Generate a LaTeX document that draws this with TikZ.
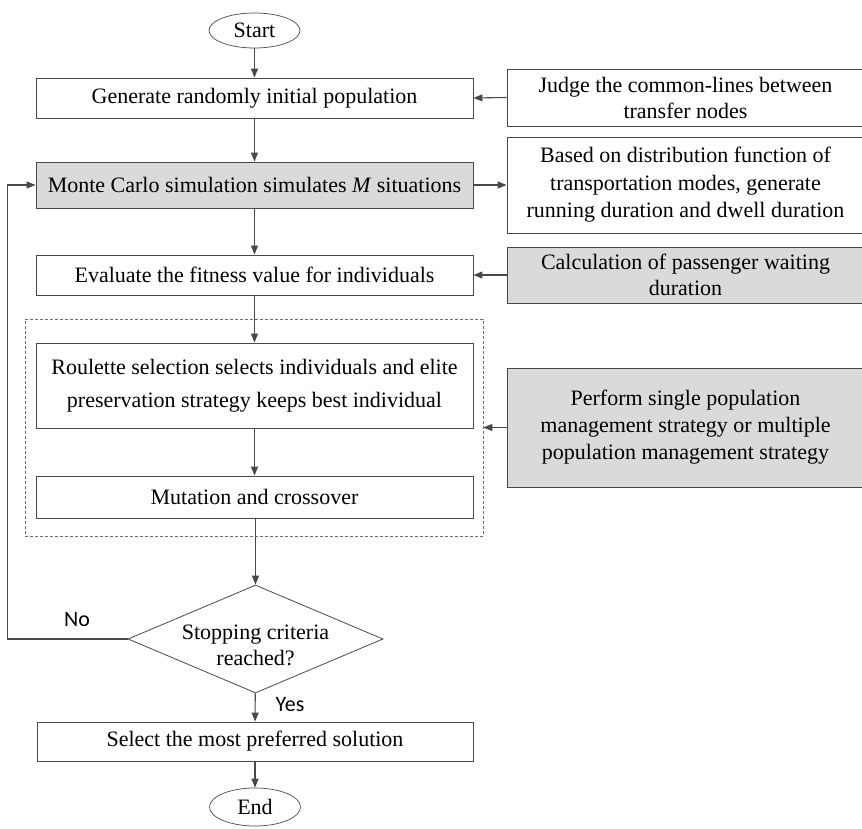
\documentclass[tikz,border=0pt]{standalone}
\usepackage{fontspec}
\setmainfont{Liberation Serif}
\newfontfamily\labelfont{Carlito}
\usetikzlibrary{shapes.geometric,arrows.meta}

\definecolor{linegray}{RGB}{72,72,72}
\definecolor{boxfill}{RGB}{218,218,218}
\definecolor{dashgray}{RGB}{110,110,110}

\begin{document}
\begin{tikzpicture}[x=1pt,y=-1pt,
  every node/.style={font=\fontsize{22}{26}\selectfont, text=black},
  proc/.style={draw=linegray, line width=0.9pt, rectangle, minimum width=437pt,
    inner sep=0pt, align=center},
  side/.style={draw=linegray, line width=0.9pt, rectangle, minimum width=357pt,
    inner sep=0pt, align=center},
  shaded/.style={fill=boxfill},
  term/.style={draw=linegray, line width=0.7pt, ellipse, minimum width=91pt,
    minimum height=35pt, inner sep=0pt},
  decision/.style={draw=linegray, line width=0.8pt, diamond, minimum width=255pt,
    minimum height=108pt, inner sep=0pt},
  group/.style={draw=dashgray, line width=0.7pt, dash pattern=on 3pt off 2pt},
  arr/.style={draw=linegray, line width=1.1pt, -{Triangle[length=9pt,width=7pt]}},
  answer/.style={font=\labelfont\fontsize{22}{26}\selectfont},
]
\useasboundingbox (0,0) rectangle (862,829);
\clip (0,0) rectangle (862,829);

% main column
\node[term] (start) at (254.5,30.5) {Start};
\node[proc, minimum height=40pt] (gen) at (254.5,98) {Generate randomly initial population};
\node[proc, shaded, minimum height=46pt] (mc) at (254.5,185)
  {Monte Carlo simulation simulates \textit{M} situations};
\node[proc, minimum height=40pt] (eval) at (254.5,275) {Evaluate the fitness value for individuals};
\node[group, rectangle, minimum width=458pt, minimum height=217pt, inner sep=0pt] (grp) at (254,427.5) {};
\node[proc, minimum height=85pt, font=\fontsize{22}{33}\selectfont] (roul) at (254.5,385.5)
  {Roulette selection selects individuals and elite\\preservation strategy keeps best individual};
\node[proc, minimum height=42pt] (mut) at (254.5,497) {Mutation and crossover};
\node[decision] (dia) at (255.5,639) {};
\node[align=center] (diatext) at (255.5,645.5) {Stopping criteria\\reached?};
\node[proc, minimum width=436pt, minimum height=39pt] (sel) at (255,741.5) {Select the most preferred solution};
\node[term, minimum height=38pt] (end) at (255,807) {End};

% side column
\node[side, minimum height=57pt] (judge) at (685.5,97.5)
  {Judge the common-lines between\\transfer nodes};
\node[side, minimum height=96pt, font=\fontsize{22}{27.5}\selectfont] (based) at (685.5,185)
  {Based on distribution function of\\transportation modes, generate\\running duration and dwell duration};
\node[side, shaded, minimum height=56pt] (calc) at (685.5,275)
  {Calculation of passenger waiting\\duration};
\node[side, shaded, minimum height=119pt, font=\fontsize{22}{27}\selectfont] (perf) at (685.5,427.5)
  {Perform single population\\management strategy or multiple\\population management strategy};

% answers of the decision
\node[answer] (no) at (77,620) {No};
\node[answer] (yes) at (290,705) {Yes};

% connectors
\draw[arr] (start) -- (gen);
\draw[arr] (gen) -- (mc);
\draw[arr] (mc) -- (eval);
\draw[arr] (eval) -- (roul);
\draw[arr] (roul) -- (mut);
\draw[arr] (mut.south -| dia.north) -- (dia.north);
\draw[arr] (dia) -- (sel);
\draw[arr] (sel) -- (end);
\draw[arr] (judge.west) -- (gen.east);
\draw[arr] (mc.east) -- (based.west);
\draw[arr] (calc.west) -- (eval.east);
\draw[arr] (perf.west) -- (grp.east);
\coordinate (back) at (7.5,639);
\draw[arr] (dia.west) -- (back) |- (mc.west);
\end{tikzpicture}
\end{document}
